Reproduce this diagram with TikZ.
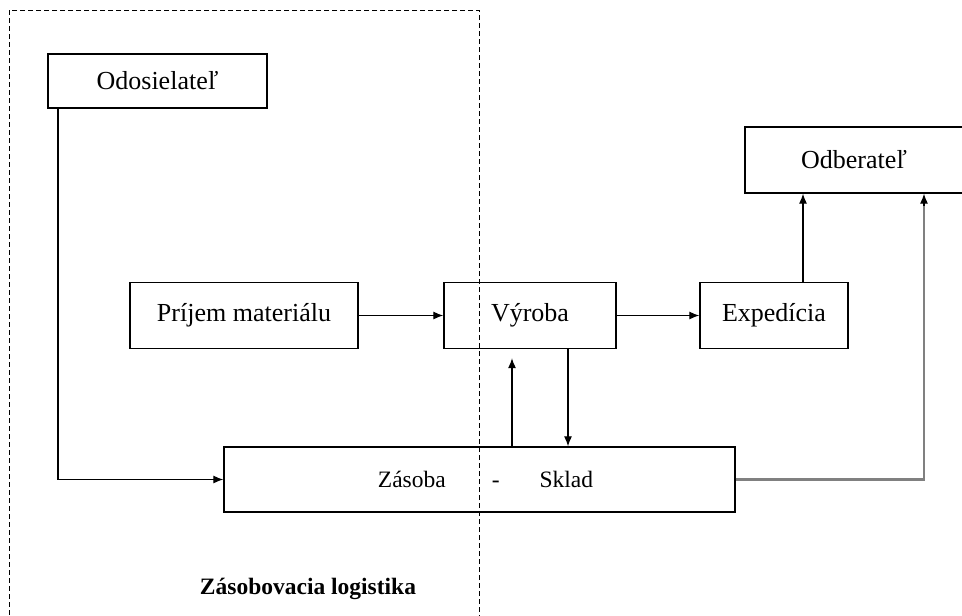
\documentclass[tikz,border=0pt]{standalone}
\usepackage{fontspec}
\setmainfont{Liberation Serif}
\usetikzlibrary{arrows.meta,calc}
\begin{document}
\begin{tikzpicture}[x=1pt,y=-1pt,
  box/.style={draw=black,line width=1.3pt,inner sep=0pt,font=\fontsize{26}{30}\selectfont},
  arr/.style={line width=1.2pt,-{Latex[length=10pt,width=8pt]}}]
\useasboundingbox (0,0) rectangle (962,616);
\fill[white] (0,0) rectangle (962,616);
\draw[line width=1pt,dash pattern=on 5pt off 3pt] (9,10) rectangle (479,640);
\node[box,minimum width=219pt,minimum height=54pt] (ods) at (157.5,81) {Odosielateľ};
\node[box,minimum width=218pt,minimum height=66pt] (odb) at (854,160) {Odberateľ};
\node[box,minimum width=228pt,minimum height=66pt] (pri) at (244,315.5) {Príjem materiálu};
\node[box,minimum width=172pt,minimum height=66pt] (vyr) at (530,315.5) {Výroba};
\node[box,minimum width=148pt,minimum height=66pt] (exp) at (774,315.5) {Expedícia};
\node[box,minimum width=511pt,minimum height=65pt,font=\fontsize{23.5}{28}\selectfont] (zas) at (479.5,479.5) {\hspace*{12pt}Zásoba\hspace{46pt}-\hspace{40pt}Sklad};
\node[font=\bfseries\fontsize{23.5}{28}\selectfont] (lab) at (308,589) {Zásobovacia logistika};
\coordinate (c1) at (58,0);
\coordinate (c2) at (512,0);
\coordinate (c3) at (568,0);
\coordinate (c4) at (803,0);
\coordinate (c5) at (924,0);
\draw[arr] (ods.south -| c1) |- (zas.west);
\draw[arr] (pri.east) -- (vyr.west);
\draw[arr] (vyr.east) -- (exp.west);
\draw[arr] (exp.north -| c4) -- (odb.south -| c4);
\draw[arr,shorten >=9pt] (zas.north -| c2) -- (vyr.south -| c2);
\draw[arr] (vyr.south -| c3) -- (zas.north -| c3);
\draw[draw=black!50,line width=2.6pt] (zas.east) -| ($(odb.south -| c5)+(0,8)$);
\draw[arr] ($(odb.south -| c5)+(0,12)$) -- (odb.south -| c5);
\end{tikzpicture}
\end{document}
